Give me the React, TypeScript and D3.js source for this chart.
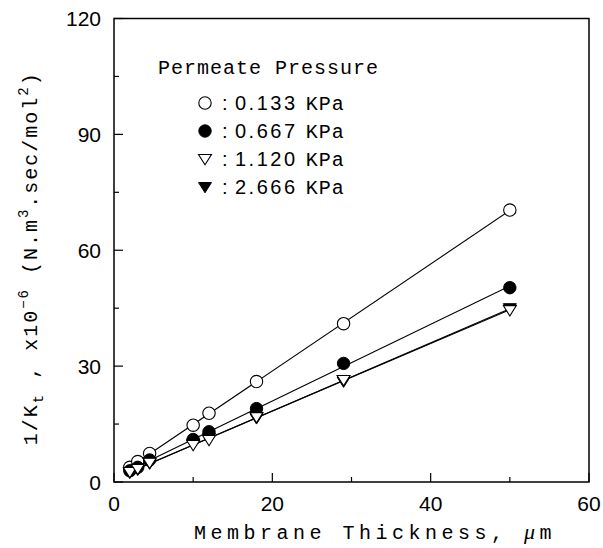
import React from "react";
import * as d3 from "d3";

const thickness = [2, 3, 4.5, 10, 12, 18, 29, 50];
const p0133 = [3.8, 5.3, 7.4, 14.7, 17.8, 26.0, 41.0, 70.4];
const p0667 = [2.9, 3.8, 5.7, 11.0, 13.0, 19.0, 30.7, 50.3];
const p1120 = [2.6, 3.4, 5.0, 9.6, 10.9, 16.8, 26.4, 44.5];
const p2666 = [2.4, 3.2, 4.8, 10.0, 11.5, 16.5, 26.0, 45.0];
const seriesLabels = ["0.133", "0.667", "1.120", "2.666"];
const xTicks = [0, 20, 40, 60];
const yTicks = [0, 30, 60, 90, 120];
const xMinor = [10, 30, 50];
const yMinor = [15, 45, 75, 105];

const W = 603, H = 548;
const L = 114, R = 589, T = 18.5, B = 482;

const MONO = "'Liberation Mono', 'Courier New', monospace";
const SANS = "'Liberation Sans', Arial, sans-serif";

function fit(xs: number[], ys: number[]) {
  const mx = d3.mean(xs)!, my = d3.mean(ys)!;
  let sxy = 0, sxx = 0;
  xs.forEach((x, i) => { sxy += (x - mx) * (ys[i] - my); sxx += (x - mx) ** 2; });
  const b = sxy / sxx;
  return { a: my - b * mx, b };
}

function Marker({ kind, x, y }: { kind: number; x: number; y: number }) {
  const r = 6.2;
  if (kind === 0) return <circle cx={x} cy={y} r={r} fill="white" stroke="black" strokeWidth={1.1} />;
  if (kind === 1) return <circle cx={x} cy={y} r={r} fill="black" stroke="black" strokeWidth={1} />;
  const pts = `${x - 6.5},${y - 4.5} ${x + 6.5},${y - 4.5} ${x},${y + 5.8}`;
  if (kind === 2) return <polygon points={pts} fill="white" stroke="black" strokeWidth={1.1} />;
  return <polygon points={pts} fill="black" stroke="black" strokeWidth={1} />;
}

export default function App() {
  const x = d3.scaleLinear().domain([0, 60]).range([L, R]);
  const y = d3.scaleLinear().domain([0, 120]).range([B, T]);
  const all = [p0133, p0667, p1120, p2666];
  const xExt = d3.extent(thickness) as [number, number];
  const line = d3.line<[number, number]>().x(d => x(d[0])).y(d => y(d[1]));

  return (
    <svg width={W} height={H} style={{ position: "absolute", left: 0, top: 0, background: "white" }}>
      <rect x={0} y={0} width={W} height={H} fill="white" />
      {all.map((ys, i) => {
        const f = fit(thickness, ys);
        const d = line(xExt.map(v => [v, f.a + f.b * v] as [number, number]));
        return <path key={"l" + i} d={d!} fill="none" stroke="black" strokeWidth={1.1} />;
      })}
      {[0, 1, 3, 2].map(i =>
        thickness.map((t, j) => <Marker key={`m${i}-${j}`} kind={i} x={x(t)} y={y(all[i][j])} />)
      )}
      <rect x={L} y={T} width={R - L} height={B - T} fill="none" stroke="black" strokeWidth={1.5} />
      {xTicks.map(t => (
        <g key={"xt" + t}>
          <line x1={x(t)} x2={x(t)} y1={B} y2={B - 9} stroke="black" strokeWidth={1.2} />
          <text x={x(t)} y={511} textAnchor="middle" fontFamily={SANS} fontSize={21}>{t}</text>
        </g>
      ))}
      {xMinor.map(t => <line key={"xm" + t} x1={x(t)} x2={x(t)} y1={B} y2={B - 5} stroke="black" strokeWidth={1.2} />)}
      {yTicks.map(t => (
        <g key={"yt" + t}>
          <line x1={L} x2={L + 9} y1={y(t)} y2={y(t)} stroke="black" strokeWidth={1.2} />
          <text x={101} y={y(t) + 7.5} textAnchor="end" fontFamily={SANS} fontSize={21}>{t}</text>
        </g>
      ))}
      {yMinor.map(t => <line key={"ym" + t} x1={L} x2={L + 5} y1={y(t)} y2={y(t)} stroke="black" strokeWidth={1.2} />)}
      <text x={194} y={539} fontFamily={MONO} fontSize={20} letterSpacing={4.5}>
        Membrane Thickness, <tspan fontStyle="italic" fontFamily="'Liberation Serif', serif" fontSize={22}>μ</tspan>m
      </text>
      <text transform={`translate(37, ${(T + B) / 2 + 8}) rotate(-90)`} textAnchor="middle" fontFamily={MONO} fontSize={20} letterSpacing={2}>
        1/K<tspan fontSize={14} dy={6}>t</tspan><tspan dy={-6}> , x10</tspan><tspan fontSize={14} dy={-9}>−6</tspan><tspan dy={9}> (N.m</tspan><tspan fontSize={14} dy={-9}>3</tspan><tspan dy={9}>.sec/mol</tspan><tspan fontSize={14} dy={-9}>2</tspan><tspan dy={9}>)</tspan>
      </text>
      <text x={158} y={74} fontFamily={MONO} fontSize={20} letterSpacing={1}>Permeate Pressure</text>
      {seriesLabels.map((lab, i) => {
        const yy = 103 + i * 28;
        return (
          <g key={"lg" + i}>
            <Marker kind={i} x={205} y={yy} />
            <text x={222} y={yy + 7} fontFamily={SANS} fontSize={20}>:</text>
            <text x={235} y={yy + 7} fontFamily={SANS} fontSize={20} letterSpacing={2.5}>
              {lab} <tspan fontFamily={MONO} letterSpacing={1}>KPa</tspan>
            </text>
          </g>
        );
      })}
    </svg>
  );
}
